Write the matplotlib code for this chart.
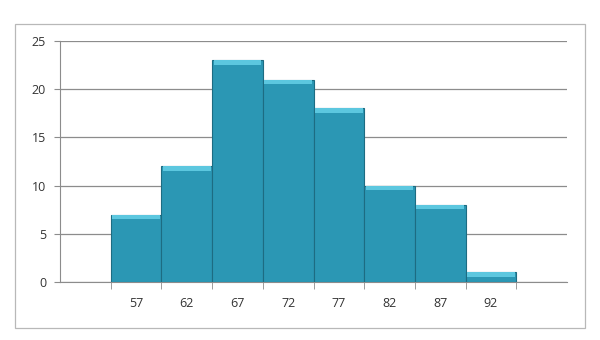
import matplotlib
matplotlib.use("Agg")
import matplotlib.pyplot as plt
from matplotlib.patches import Rectangle
import numpy as np

# histogram data
bins = ["57", "62", "67", "72", "77", "82", "87", "92"]
counts = [7, 12, 23, 21, 18, 10, 8, 1]
yticks = [0, 5, 10, 15, 20, 25]

plt.rcParams['font.family'] = ['Open Sans', 'DejaVu Sans']

fig = plt.figure(figsize=(6, 3.4), dpi=100)
# outer chart border
fig.patches.append(Rectangle((15/600, 12/340), 570/600, 304/340, transform=fig.transFigure,
                             fill=False, edgecolor='#b8b8b8', linewidth=0.9))

ax = fig.add_axes([60/600, 58/340, 507/600, 241/340])

# one empty slot each side, like the original category axis
x = np.arange(1, len(bins) + 1)
ax.bar(x, counts, width=1.0, color='#2b97b4', edgecolor='#1d6c82', linewidth=0.8, zorder=3)
# lighter bevel strip on top of every bar
cap = 0.45
ax.bar(x, [cap] * len(counts), bottom=np.array(counts) - cap, width=0.94,
       color='#5cc7df', edgecolor='none', zorder=4)

ax.set_xlim(-0.5, len(bins) + 1.5)
ax.set_ylim(0, 25)
ax.set_yticks(yticks)
ax.set_xticks(x)
ax.set_xticklabels(bins)
ax.set_xticks(np.arange(0.5, len(bins) + 1, 1.0), minor=True)
ax.tick_params(axis='x', which='major', length=0, pad=11, labelsize=9, colors='#333333')
ax.tick_params(axis='x', which='minor', length=5, color='#8c8c8c')
ax.tick_params(axis='y', length=4, labelsize=9, colors='#333333', pad=6)
ax.tick_params(axis='y', color='#8c8c8c')

ax.yaxis.grid(True, color='#8c8c8c', linewidth=0.9, zorder=0)
ax.set_axisbelow(True)
for s in ['top', 'right']:
    ax.spines[s].set_visible(False)
ax.spines['left'].set_color('#8c8c8c')
ax.spines['bottom'].set_color('#8c8c8c')

fig.savefig("out.png", dpi=100)
